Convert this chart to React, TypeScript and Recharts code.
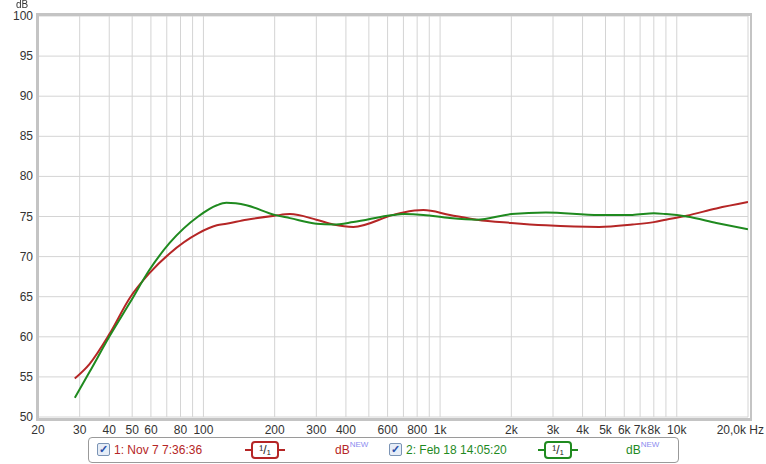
import { LineChart, Line, XAxis, YAxis, CartesianGrid } from 'recharts';

/* ── Palette ─────────────────────────────────────────────── */

const RED   = '#b52626';
const GREEN = '#1f8a1f';
const GRID  = '#d4d4d4';
const FRAME = '#c4c4c4';
const TEXT  = '#333333';
const FONT  = "'Liberation Sans', Arial, sans-serif";

/* ── Data ────────────────────────────────────────────────── */

const freqs = [
  28.6, 33, 40, 49, 59, 72, 95, 114, 125, 152, 200, 232, 300, 354, 430,
  634, 700, 850, 1100, 1430, 2000, 2800, 4700, 6500, 8000, 9000, 11000, 14700, 20000,
];
const trace1 = [
  54.8, 56.6, 60.3, 64.9, 67.9, 70.4, 72.9, 73.9, 74.1, 74.6, 75.1, 75.3, 74.6, 74.0, 73.7,
  75.2, 75.5, 75.8, 75.2, 74.6, 74.2, 73.9, 73.7, 74.0, 74.3, 74.6, 75.1, 76.0, 76.8,
];
const trace2 = [
  52.4, 55.6, 60.0, 64.3, 68.3, 71.7, 75.0, 76.4, 76.7, 76.4, 75.2, 74.8, 74.1, 74.0, 74.3,
  75.2, 75.3, 75.2, 74.8, 74.6, 75.3, 75.5, 75.2, 75.2, 75.4, 75.3, 75.0, 74.2, 73.4,
];

const gridFreqs = [
  20, 30, 40, 50, 60, 70, 80, 90, 100, 200, 300, 400, 500, 600, 700, 800, 900,
  1000, 2000, 3000, 4000, 5000, 6000, 7000, 8000, 9000, 10000, 20000,
];
const xLabels: Record<number, string> = {
  20: '20', 30: '30', 40: '40', 50: '50', 60: '60', 80: '80', 100: '100',
  200: '200', 300: '300', 400: '400', 600: '600', 800: '800', 1000: '1k',
  2000: '2k', 3000: '3k', 4000: '4k', 5000: '5k', 6000: '6k', 7000: '7k',
  8000: '8k', 10000: '10k', 20000: '20,0k Hz',
};
const yTicks = [50, 55, 60, 65, 70, 75, 80, 85, 90, 95, 100];

const data = freqs.map((f, i) => ({ f, a: trace1[i], b: trace2[i] }));

/* ── Ticks ───────────────────────────────────────────────── */

function XTick({ x, y, payload }: any) {
  const label = xLabels[payload.value];
  if (!label) return null;
  const last = payload.value === 20000;
  return (
    <text
      x={last ? x + 16 : x}
      y={y + 15}
      textAnchor={last ? 'end' : 'middle'}
      fill={TEXT}
      fontSize={12}
      fontFamily={FONT}
    >
      {label}
    </text>
  );
}

function YTick({ x, y, payload }: any) {
  return (
    <text x={x - 3} y={y + 4} textAnchor="end" fill={TEXT} fontSize={12} fontFamily={FONT}>
      {payload.value}
    </text>
  );
}

/* ── Legend pieces ───────────────────────────────────────── */

function Check({ left }: { left: number }) {
  return (
    <div
      style={{
        position: 'absolute', left, top: 5, width: 11, height: 11,
        border: '1px solid #7b94b5', background: '#e6edf7', borderRadius: 2,
        color: '#2a4fa8', fontSize: 11, lineHeight: '11px', textAlign: 'center',
        fontWeight: 'bold',
      }}
    >
      ✓
    </div>
  );
}

function Symbol({ left, color }: { left: number; color: string }) {
  return (
    <div style={{ position: 'absolute', left, top: 2, width: 40, height: 18 }}>
      <div style={{ position: 'absolute', left: 0, right: 0, top: 9, height: 2, background: color }} />
      <div
        style={{
          position: 'absolute', left: 6, top: 1, width: 24, height: 14,
          border: `2px solid ${color}`, borderRadius: 4, background: '#fff',
          color: '#222', fontSize: 12, lineHeight: '14px', textAlign: 'center',
        }}
      >
        ¹/₁
      </div>
    </div>
  );
}

function Unit({ left, color }: { left: number; color: string }) {
  return (
    <div style={{ position: 'absolute', left, top: 5, fontSize: 12, color }}>
      dB<span style={{ fontSize: 8, color: '#8c8cf0', verticalAlign: 'top', position: 'relative', top: -3 }}>NEW</span>
    </div>
  );
}

/* ── Page ────────────────────────────────────────────────── */

export default function App() {
  return (
    <div style={{ position: 'fixed', left: 0, top: 0, width: 766, height: 464, background: '#fff', fontFamily: FONT }}>
      <LineChart
        width={766}
        height={464}
        data={data}
        margin={{ top: 16, right: 18, left: 0, bottom: 0 }}
      >
        <CartesianGrid stroke={GRID} horizontalValues={yTicks} verticalValues={gridFreqs} />
        <XAxis
          dataKey="f"
          type="number"
          scale="log"
          domain={[20, 20000]}
          ticks={gridFreqs}
          interval={0}
          allowDataOverflow
          axisLine={false}
          tickLine={false}
          tickSize={0}
          height={47}
          tick={<XTick />}
        />
        <YAxis
          type="number"
          domain={[50, 100]}
          ticks={yTicks}
          interval={0}
          axisLine={false}
          tickLine={false}
          tickSize={0}
          width={38}
          tick={<YTick />}
        />
        <Line dataKey="a" type="monotone" stroke={RED} strokeWidth={2} dot={false} isAnimationActive={false} />
        <Line dataKey="b" type="monotone" stroke={GREEN} strokeWidth={2} dot={false} isAnimationActive={false} />
      </LineChart>

      {/* plot frame */}
      <div
        style={{
          position: 'absolute', left: 36, top: 13, width: 711, height: 402,
          border: `3px solid ${FRAME}`, borderRight: `2px solid ${FRAME}`, pointerEvents: 'none',
        }}
      />

      {/* axis title */}
      <div style={{ position: 'absolute', left: 16, top: 0, fontSize: 10, lineHeight: '10px', color: TEXT }}>dB</div>

      {/* legend */}
      <div
        style={{
          position: 'absolute', left: 88, top: 437, width: 589, height: 24,
          border: '1px solid #9a9a9a', borderRadius: 4, background: '#fff', fontSize: 12,
        }}
      >
        <Check left={8} />
        <div style={{ position: 'absolute', left: 25, top: 5, color: RED }}>1: Nov 7 7:36:36</div>
        <Symbol left={156} color={RED} />
        <Unit left={246} color={RED} />
        <Check left={300} />
        <div style={{ position: 'absolute', left: 317, top: 5, color: GREEN }}>2: Feb 18 14:05:20</div>
        <Symbol left={449} color={GREEN} />
        <Unit left={537} color={GREEN} />
      </div>
    </div>
  );
}
